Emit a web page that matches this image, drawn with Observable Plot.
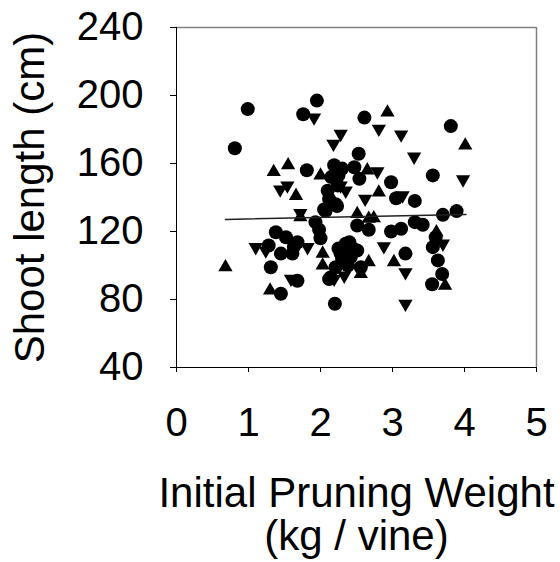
<!DOCTYPE html>
<html>
<head>
<meta charset="utf-8">
<script src="https://cdn.jsdelivr.net/npm/d3@7"></script>
<script src="https://cdn.jsdelivr.net/npm/@observablehq/plot@0.6"></script>
<style>
  html, body { margin: 0; padding: 0; background: #fff; }
</style>
</head>
<body>
<div id="chart"></div>
<script>
// Circles
const circleX = [0.99,1.95,1.76,0.81,1.81,2.19,2.10,2.23,2.07,1.93,2.00,1.38,1.52,1.68,1.28,1.45,1.61,1.31,1.68,1.45,2.20,2.12,
  2.61,3.81,2.53,2.47,2.30,2.54,2.98,3.56,3.05,3.31,3.70,3.89,2.51,2.67,2.98,3.12,3.31,3.42,3.18,3.56,3.63,3.69,3.55,
  2.40,2.42,2.28,2.35,2.51,2.14,2.21,2.56,2.05,2.21,3.60,2.24,1.98,1.63,
  2.30,2.45,2.38,2.25,2.15,2.25,2.12];
const circleY = [192,197,189,169,156,159,144,135,132,125.5,116,119.6,116.6,113.7,111.8,107,107,99,91,83.4,77.5,92,
  187,182,165.7,157.8,157,151,149,153,139.6,138,129.8,132,123.5,121,120,121.6,125.5,124,107,110.8,103,95,89,
  113.7,105,107,112.8,108.8,93,99,99,133,136,116.6,147,121,111,
  104,110,100,110,152,153,139];
// Upward triangles
const upX = [1.55,1.35,1.66,2.00,0.68,1.30,2.03,2.03,1.72,2.93,4.01,2.65,2.81,2.51,2.74,2.67,3.61,3.02,2.56,2.67,3.73];
const upY = [159,155,141,153,99,85.3,107,100,128.4,190,170.6,156,143,130.3,127.8,127.5,119.6,102,95,102,88.2];
// Downward triangles
const downX = [1.91,2.28,2.18,1.44,1.54,1.72,1.10,1.24,1.82,1.59,2.81,3.12,3.30,3.98,2.79,2.62,3.14,2.35,2.88,3.18,3.18,3.70,2.33,2.19,2.28];
const downY = [187,177.4,171.6,144.7,147,130.8,110.8,108.8,110.8,92.2,180.4,177,164,150.6,155.3,139.2,141.2,144,111.3,96,77.5,112.8,94,92.2,147];
// Fitted trend line end points
const trendX = [0.68, 4.02];
const trendY = [127.1, 130];
// Axis ticks
const xTicks = [0,1,2,3,4,5];
const yTicks = [40,80,120,160,200,240];

const circles = circleX.map((x,i) => ({x, y: circleY[i]}));
const ups = upX.map((x,i) => ({x, y: upY[i]}));
const downs = downX.map((x,i) => ({x, y: downY[i]}));
const trend = trendX.map((x,i) => ({x, y: trendY[i]}));

const triangleDown = {
  draw(context, size) {
    const y = Math.sqrt(size / (Math.sqrt(3) * 3));
    context.moveTo(0, y * 2);
    context.lineTo(-Math.sqrt(3) * y, -y);
    context.lineTo(Math.sqrt(3) * y, -y);
    context.closePath();
  }
};

const chart = Plot.plot({
  width: 560,
  height: 562,
  marginLeft: 176,
  marginRight: 24,
  marginTop: 27,
  marginBottom: 195,
  style: {fontFamily: "'Liberation Sans', Arial, sans-serif", fontSize: "40px", color: "#000", background: "#fff"},
  x: {domain: [0, 5], ticks: xTicks, tickSize: 5, tickPadding: 35, label: null, tickFormat: d => String(d)},
  y: {domain: [40, 240], ticks: yTicks, tickSize: 6, tickPadding: 27, label: null, tickFormat: d => String(d)},
  marks: [
    Plot.ruleY([240], {stroke: "#808080", strokeWidth: 1.5}),
    Plot.ruleX([5], {stroke: "#808080", strokeWidth: 1.5}),
    Plot.dot(circles, {x: "x", y: "y", symbol: "circle", r: 7, fill: "#000", stroke: "none"}),
    Plot.dot(ups, {x: "x", y: "y", symbol: "triangle", r: 5.3, fill: "#000", stroke: "none"}),
    Plot.dot(downs, {x: "x", y: "y", symbol: triangleDown, r: 5.3, fill: "#000", stroke: "none"}),
    Plot.line(trend, {x: "x", y: "y", stroke: "#222", strokeWidth: 1.5}),
    Plot.ruleX([0], {stroke: "#000", strokeWidth: 1}),
    Plot.ruleY([40], {stroke: "#000", strokeWidth: 1}),
    Plot.text(["Shoot length (cm)"], {frameAnchor: "left", dx: -146, rotate: -90, text: d => d,
      fontSize: 42, lineAnchor: "middle", textAnchor: "middle", fill: "#000"}),
    Plot.text(["Initial Pruning Weight\n(kg / vine)"], {frameAnchor: "bottom", dy: 109, text: d => d,
      fontSize: 42, lineAnchor: "top", lineHeight: 1.03, textAnchor: "middle", fill: "#000"})
  ]
});
document.getElementById("chart").appendChild(chart);
</script>
</body>
</html>
